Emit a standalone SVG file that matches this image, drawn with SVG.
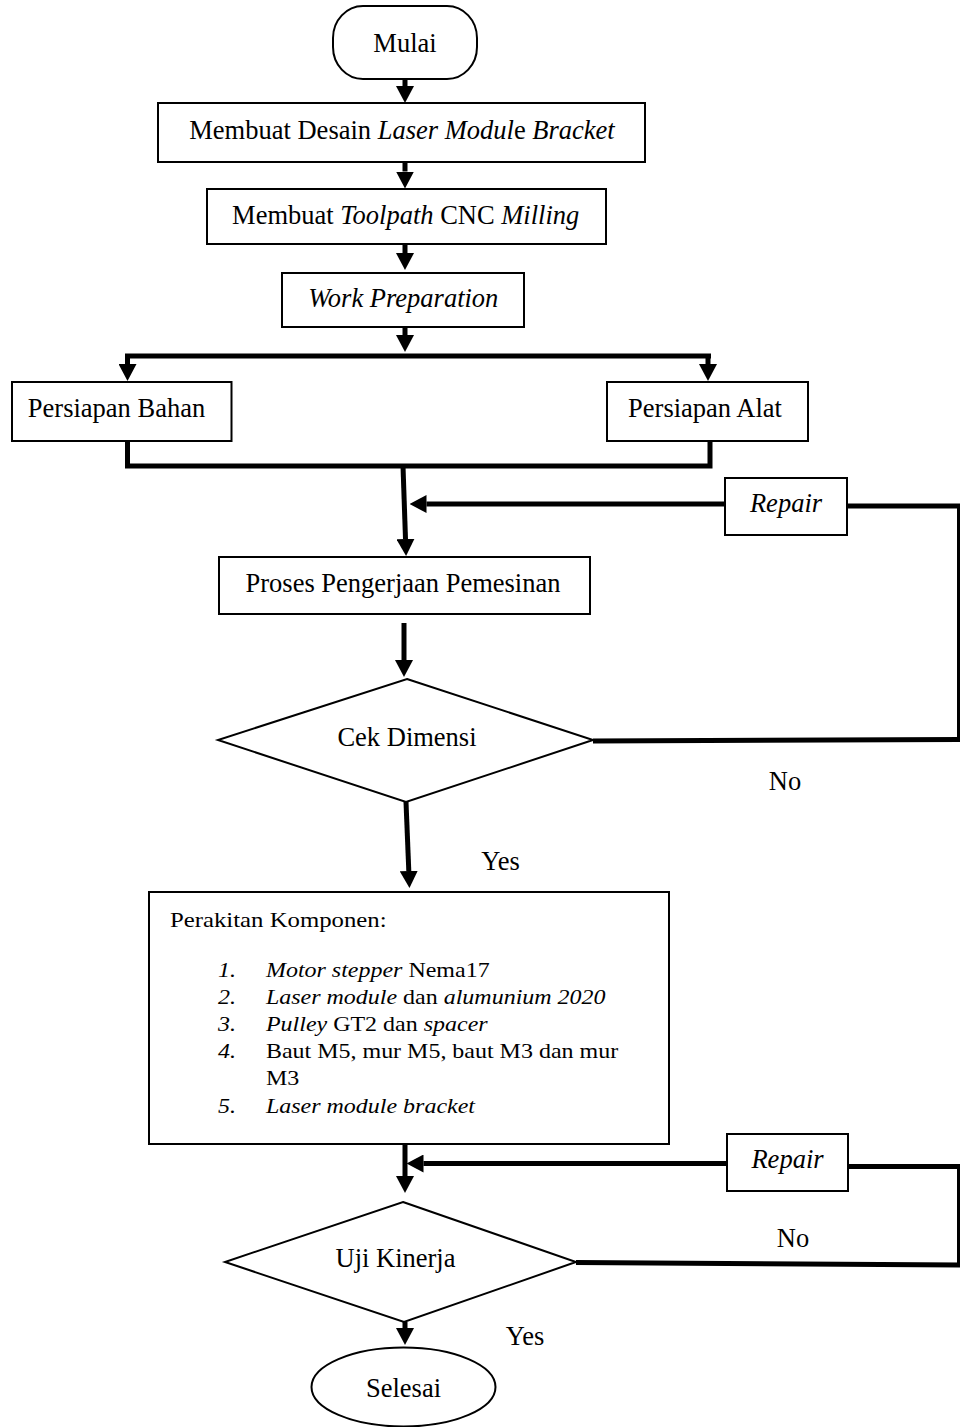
<svg xmlns="http://www.w3.org/2000/svg" width="961" height="1427" viewBox="0 0 961 1427">
<defs>
<marker id="ah" viewBox="0 0 17 18" refX="0" refY="9" markerWidth="17" markerHeight="18" markerUnits="userSpaceOnUse" orient="auto">
<path d="M0,0 L17,9 L0,18 z" fill="#000"/>
</marker>
<style>
.n{fill:#fff;stroke:#000;stroke-width:2}
.t{font-family:"Liberation Serif","Times New Roman",serif;font-size:26.5px;fill:#000;text-anchor:middle}
.l{font-family:"Liberation Serif","Times New Roman",serif;font-size:22px;fill:#000}
.i{font-style:italic}
.c{fill:none;stroke:#000;stroke-width:5}
.ca{fill:none;stroke:#000;stroke-width:5;marker-end:url(#ah)}
.th{fill:none;stroke:#000;stroke-width:3}
</style>
</defs>
<rect width="961" height="1427" fill="#fff"/>

<g id="connectors">
<line class="ca" x1="405" y1="79" x2="405" y2="86"/>
<line class="ca" x1="405" y1="162" x2="405" y2="171.5"/>
<line class="ca" x1="405" y1="244" x2="405" y2="253"/>
<line class="ca" x1="405" y1="327" x2="405" y2="335"/>
<line class="c" x1="125" y1="356" x2="711" y2="356"/>
<line class="ca" x1="127.5" y1="356" x2="127.5" y2="364"/>
<line class="ca" x1="708" y1="356" x2="708" y2="364"/>
<path class="c" d="M127.5,441 V466 H710 V441"/>
<line class="ca" x1="403" y1="466" x2="405.5" y2="539"/>
<line class="ca" x1="725" y1="504" x2="426.5" y2="504"/>
<line class="c" x1="847" y1="506" x2="960" y2="506"/>
<line class="th" x1="958.5" y1="504" x2="958.5" y2="742"/>
<line class="c" x1="593" y1="741" x2="960" y2="739.5"/>
<line class="ca" x1="404" y1="623" x2="404" y2="660"/>
<line class="ca" x1="406" y1="802" x2="408.8" y2="871"/>
<line class="ca" x1="405" y1="1144" x2="405" y2="1176"/>
<line class="ca" x1="727" y1="1163.5" x2="423.5" y2="1163.5"/>
<line class="c" x1="848" y1="1166.5" x2="960" y2="1166.5"/>
<line class="th" x1="958.5" y1="1165" x2="958.5" y2="1267"/>
<line class="c" x1="576" y1="1262.5" x2="960" y2="1265"/>
<line class="ca" x1="405" y1="1322" x2="405" y2="1328"/>
</g>

<g id="mulai">
<rect class="n" x="333" y="6" width="144" height="73" rx="30" ry="32"/>
<text class="t" x="405" y="52">Mulai</text>
</g>
<g id="desain">
<rect class="n" x="158" y="103" width="487" height="59"/>
<text class="t" x="402" y="138.5">Membuat Desain <tspan class="i">Laser Modul</tspan>e <tspan class="i">Bracket</tspan></text>
</g>
<g id="toolpath">
<rect class="n" x="207" y="189" width="399" height="55"/>
<text class="t" x="405.7" y="224">Membuat <tspan class="i">Toolpath</tspan> CNC <tspan class="i">Milling</tspan></text>
</g>
<g id="workprep">
<rect class="n" x="282" y="273" width="242" height="54"/>
<text class="t i" x="403.3" y="307">Work Preparation</text>
</g>
<g id="bahan">
<rect class="n" x="12" y="382" width="219.5" height="59"/>
<text class="t" x="116.5" y="417">Persiapan Bahan</text>
</g>
<g id="alat">
<rect class="n" x="607" y="382" width="201" height="59"/>
<text class="t" x="705" y="417">Persiapan Alat</text>
</g>
<g id="repair1">
<rect class="n" x="725" y="478" width="122" height="57"/>
<text class="t i" x="786" y="512">Repair</text>
</g>
<g id="proses">
<rect class="n" x="219" y="557" width="371" height="57"/>
<text class="t" x="403" y="592">Proses Pengerjaan Pemesinan</text>
</g>
<g id="cek">
<polygon class="n" points="407,679 593,740 406,802 218,740"/>
<text class="t" x="407" y="746">Cek Dimensi</text>
</g>
<g id="labels1">
<text class="t" x="785" y="790">No</text>
<text class="t" x="500.5" y="870">Yes</text>
</g>
<g id="perakitan">
<rect class="n" x="149" y="892" width="520" height="252"/>
<g transform="scale(1.126,1)">
<text class="l" x="151" y="927" font-size="23.5">Perakitan Komponen:</text>
</g>
<g transform="scale(1.09,1)">
<text class="l i" x="200" y="977">1.</text>
<text class="l" x="244" y="977"><tspan class="i">Motor stepper</tspan> Nema17</text>
<text class="l i" x="200" y="1004">2.</text>
<text class="l" x="244" y="1004"><tspan class="i">Laser module</tspan> dan <tspan class="i">alumunium 2020</tspan></text>
<text class="l i" x="200" y="1031">3.</text>
<text class="l" x="244" y="1031"><tspan class="i">Pulley</tspan> GT2 dan <tspan class="i">spacer</tspan></text>
<text class="l i" x="200" y="1058">4.</text>
<text class="l" x="244" y="1058">Baut M5, mur M5, baut M3 dan mur</text>
<text class="l" x="244" y="1085">M3</text>
<text class="l i" x="200" y="1113">5.</text>
<text class="l i" x="244" y="1113">Laser module bracket</text>
</g>
</g>
<g id="repair2">
<rect class="n" x="727" y="1134" width="121" height="57"/>
<text class="t i" x="787.5" y="1168">Repair</text>
</g>
<g id="uji">
<polygon class="n" points="403,1202 576,1262 404,1322 225,1262"/>
<text class="t" x="395.5" y="1267">Uji Kinerja</text>
</g>
<g id="labels2">
<text class="t" x="793" y="1247">No</text>
<text class="t" x="525" y="1345">Yes</text>
</g>
<g id="selesai">
<ellipse class="n" cx="403.5" cy="1387" rx="92" ry="39.5"/>
<text class="t" x="403.5" y="1397" font-size="30">Selesai</text>
</g>
</svg>
